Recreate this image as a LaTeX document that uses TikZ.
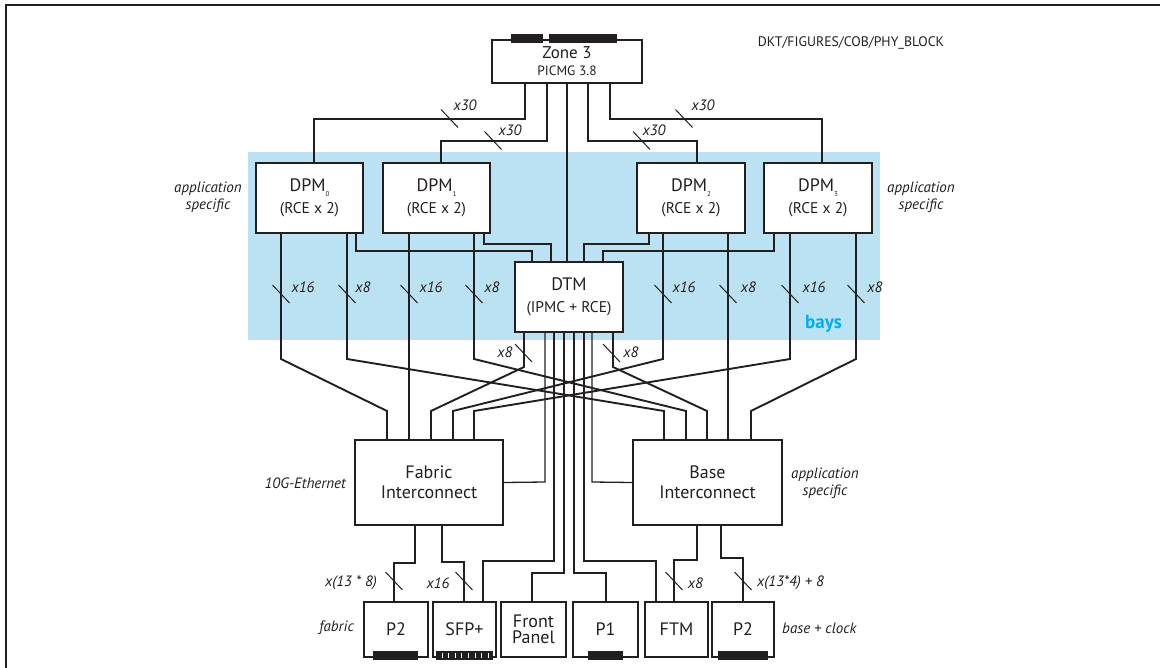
\documentclass[tikz,border=0pt]{standalone}
\usepackage{fontspec}
\setmainfont{PT Sans}
\definecolor{baybg}{RGB}{187,226,243}
\definecolor{baytxt}{RGB}{0,174,239}
\definecolor{ink}{RGB}{35,31,32}
\newcommand\tickat[1]{\draw[tickl] (#1) +(-8.5,-9) -- +(8.5,9);}
\newcommand\sbs[1]{{\fontsize{7}{7}\selectfont\raisebox{-5pt}{#1}}}
\begin{document}
\begin{tikzpicture}[x=1pt,y=-1pt,
  box/.style={draw=ink, line width=2.4pt, fill=white, inner sep=0pt, align=center, text=ink},
  big/.style={font=\fontsize{18}{19}\selectfont},
  wire/.style={draw=ink, line width=1.9pt},
  thinw/.style={draw=ink, line width=1.3pt},
  tickl/.style={draw=ink, line width=1pt},
  lab/.style={font=\fontsize{15}{16}\selectfont\itshape, text=ink, inner sep=0pt},
  side/.style={font=\fontsize{15}{17}\selectfont\itshape, text=ink, inner sep=0pt, align=center}]
\useasboundingbox (0,0) rectangle (1160,668);
% frame
\draw[ink, line width=1.2pt] (6,668) -- (6,5) -- (1160,5);
% bays
\fill[baybg] (248,152) rectangle (880,340);
\node[font=\fontsize{19}{20}\selectfont\bfseries, text=baytxt] (bays) at (823.5,324) {bays};
\node[font=\fontsize{13.8}{15}\selectfont, text=ink] (ref) at (851,43) {DKT/FIGURES/COB/PHY\_BLOCK};

% boxes
\node[box, minimum width=150pt, minimum height=43pt] (zone) at (567,61.5)
  {\fontsize{17}{17}\selectfont Zone 3\\[5pt]\fontsize{13.5}{14}\selectfont PICMG 3.8};
\node[box, big, minimum width=107pt, minimum height=70pt] (dpm0) at (309.5,198)
  {DPM\sbs{0}\\[3.5pt]\fontsize{15.5}{16}\selectfont (RCE x 2)};
\node[box, big, minimum width=107pt, minimum height=70pt] (dpm1) at (436.5,198)
  {DPM\sbs{1}\\[3.5pt]\fontsize{15.5}{16}\selectfont (RCE x 2)};
\node[box, big, minimum width=108pt, minimum height=70pt] (dpm2) at (691,198)
  {DPM\sbs{2}\\[3.5pt]\fontsize{15.5}{16}\selectfont (RCE x 2)};
\node[box, big, minimum width=108pt, minimum height=70pt] (dpm3) at (818,198)
  {DPM\sbs{3}\\[3.5pt]\fontsize{15.5}{16}\selectfont (RCE x 2)};
\node[box, big, minimum width=108pt, minimum height=70pt] (dtm) at (569,297)
  {DTM\\[3.5pt]\fontsize{15.5}{16}\selectfont (IPMC + RCE)};
\node[box, big, minimum width=148pt, minimum height=85pt] (fab) at (429,482.5)
  {Fabric\\[1pt]Interconnect};
\node[box, big, minimum width=149pt, minimum height=85pt] (base) at (707.5,482.5)
  {Base\\[1pt]Interconnect};
\node[box, big, minimum width=64pt, minimum height=55pt] (p2a) at (396,629.5) {P2};
\node[box, big, minimum width=63pt, minimum height=55pt] (sfp) at (464.5,629.5) {SFP+};
\node[box, big, minimum width=65pt, minimum height=55pt] (fp) at (533.5,629.5) {Front\\[-3pt]Panel};
\node[box, big, minimum width=65pt, minimum height=55pt] (p1) at (605.5,629.5) {P1};
\node[box, big, minimum width=63pt, minimum height=55pt] (ftm) at (676.5,629.5) {FTM};
\node[box, big, minimum width=62pt, minimum height=55pt] (p2b) at (743,629.5) {P2};

% connector bars
\fill[ink] (511,34) rectangle (543,43);
\fill[ink] (549,34) rectangle (617,43);
\fill[ink] (373,651) rectangle (418,660);
\fill[ink] (436,651) rectangle (493,660);
\foreach \i in {0,...,7} \draw[white, line width=0.7pt] (442+\i*6.6,653) -- (442+\i*6.6,658);
\fill[ink] (588,651) rectangle (623,660);
\fill[ink] (718,651) rectangle (768,660);

% Zone 3 to DPMs
\draw[wire] (525,0 |- zone.south) -- (525,119) -- (314,119) -- (314,0 |- dpm0.north);
\draw[wire] (547,0 |- zone.south) -- (547,141) -- (441,141) -- (441,0 |- dpm1.north);
\draw[thinw] (567,0 |- zone.south) -- (567,0 |- dtm.north);
\draw[wire] (588,0 |- zone.south) -- (588,141) -- (697,141) -- (697,0 |- dpm2.north);
\draw[wire] (610,0 |- zone.south) -- (610,119) -- (822,119) -- (822,0 |- dpm3.north);
\tickat{449.5,118.5} \node[lab] at (465,105) {x30};
\tickat{493,140.5} \node[lab] at (510,130) {x30};
\tickat{641.5,140.5} \node[lab] at (654,130) {x30};
\tickat{684,118.5} \node[lab] at (703,105) {x30};

% DPMs to DTM
\draw[wire] (356,0 |- dpm0.south) -- (356,251) -- (532,251) -- (532,0 |- dtm.north);
\draw[wire] (484,0 |- dpm1.south) -- (484,244) -- (551,244) -- (551,0 |- dtm.north);
\draw[wire] (649,0 |- dpm2.south) -- (649,244) -- (584,244) -- (584,0 |- dtm.north);
\draw[wire] (774,0 |- dpm3.south) -- (774,251) -- (603,251) -- (603,0 |- dtm.north);

% DPMs to interconnects
\draw[wire] (281,0 |- dpm0.south) -- (281,359) -- (387,411) -- (387,0 |- fab.north);
\draw[wire] (347,0 |- dpm0.south) -- (347,359) -- (664,411) -- (664,0 |- base.north);
\draw[wire] (409,0 |- dpm1.south) -- (409,0 |- fab.north);
\draw[wire] (474,0 |- dpm1.south) -- (474,359) -- (686,411) -- (686,0 |- base.north);
\draw[wire] (663,0 |- dpm2.south) -- (663,359) -- (453,411) -- (453,0 |- fab.north);
\draw[wire] (728,0 |- dpm2.south) -- (728,0 |- base.north);
\draw[wire] (790,0 |- dpm3.south) -- (790,359) -- (474,411) -- (474,0 |- fab.north);
\draw[wire] (856,0 |- dpm3.south) -- (856,359) -- (751,411) -- (751,0 |- base.north);
\tickat{281,294} \node[lab] at (303,287) {x16};
\tickat{347,294} \node[lab] at (363,287) {x8};
\tickat{409,294} \node[lab] at (431,287) {x16};
\tickat{474,294} \node[lab] at (492,287) {x8};
\tickat{663,294} \node[lab] at (684,287) {x16};
\tickat{728,294} \node[lab] at (748.5,287) {x8};
\tickat{790,294} \node[lab] at (814,287) {x16};
\tickat{856,294} \node[lab] at (875,287) {x8};

% DTM to interconnects
\draw[wire] (524,0 |- dtm.south) -- (524,367) -- (431,411) -- (431,0 |- fab.north);
\draw[wire] (613,0 |- dtm.south) -- (613,367) -- (707,411) -- (707,0 |- base.north);
\tickat{523.5,353} \node[lab] at (505,352) {x8};
\tickat{611.5,353} \node[lab] at (631,352) {x8};

% DTM thin lines
\draw[thinw] (545,0 |- dtm.south) -- (545,482) -- (fab.east);
\draw[thinw] (554,0 |- dtm.south) -- (554,561) -- (483,561) -- (483,0 |- sfp.north);
\draw[thinw] (564,0 |- dtm.south) -- (564,573) -- (532,573) -- (532,0 |- fp.north);
\draw[thinw] (574,0 |- dtm.south) -- (574,573) -- (606,573) -- (606,0 |- p1.north);
\draw[thinw] (584,0 |- dtm.south) -- (584,561) -- (656,561) -- (656,0 |- ftm.north);
\draw[thinw] (592,0 |- dtm.south) -- (592,482) -- (base.west);

% interconnects to bottom
\draw[wire] (415,0 |- fab.south) -- (415,563) -- (394,563) -- (394,0 |- p2a.north);
\draw[wire] (442,0 |- fab.south) -- (442,562) -- (464,562) -- (464,0 |- sfp.north);
\draw[wire] (697,0 |- base.south) -- (697,560) -- (674,560) -- (674,0 |- ftm.north);
\draw[wire] (721,0 |- base.south) -- (721,558) -- (743,558) -- (743,0 |- p2b.north);
\tickat{394,581} \node[lab, anchor=east] at (377,583) {x(13 * 8)};
\tickat{464,581} \node[lab] at (438,583) {x16};
\tickat{674,581} \node[lab] at (695.5,583) {x8};
\tickat{743,581} \node[lab, anchor=west] at (757,583) {x(13*4) + 8};

% side labels
\node[side] at (208,197) {application\\specific};
\node[side] at (921,197) {application\\specific};
\node[side, anchor=east] at (346,483) {10G-Ethernet};
\node[side] at (825,483) {application\\specific};
\node[side, anchor=east] at (354,628) {fabric};
\node[side, anchor=west] at (782,628) {base + clock};
\end{tikzpicture}
\end{document}
